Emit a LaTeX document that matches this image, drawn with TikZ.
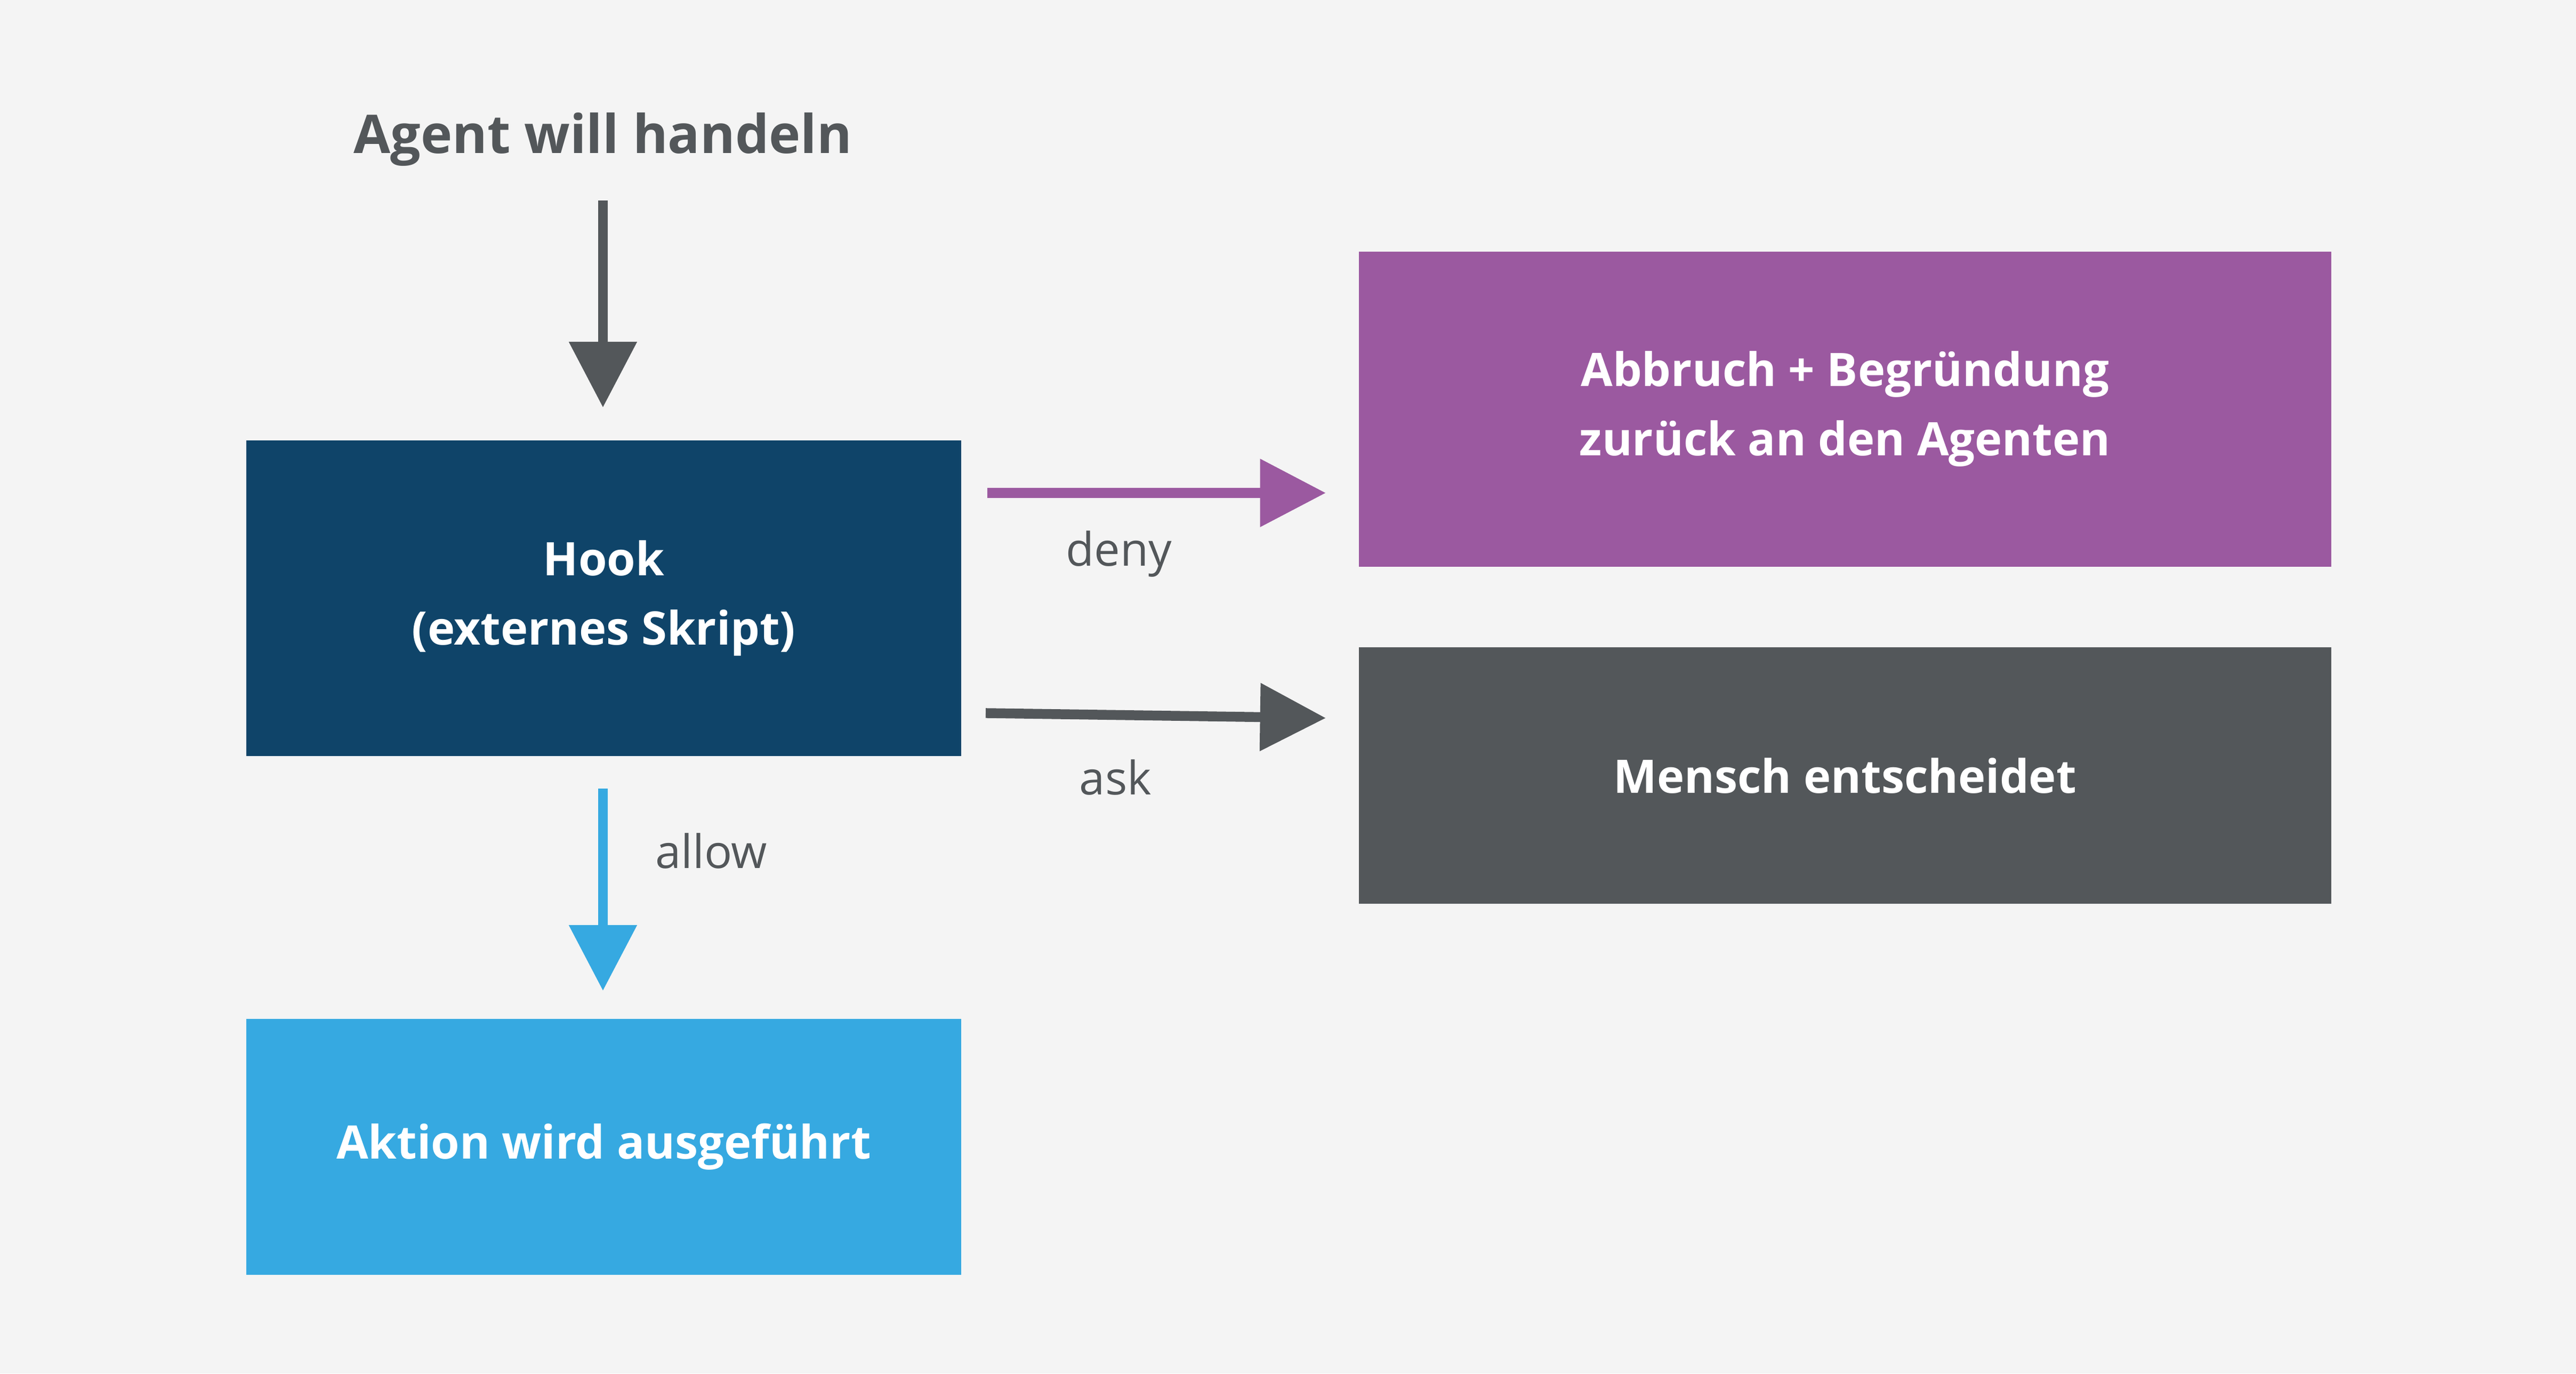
\documentclass[tikz,border=0pt]{standalone}
\usepackage{fontspec}
\setmainfont{Open Sans}
\usetikzlibrary{arrows.meta}
\definecolor{bgGray}{HTML}{F4F4F4}
\definecolor{hookBlue}{HTML}{0F4469}
\definecolor{actBlue}{HTML}{36A9E1}
\definecolor{denyPurple}{HTML}{9B59A0}
\definecolor{askGray}{HTML}{53575A}
\tikzset{
  box/.style = {rectangle, text = white, font = \fontsize{16}{24}\selectfont\bfseries,
      align = center, inner sep = 0pt},
  lbl/.style = {text = askGray, font = \fontsize{16}{20}\selectfont},
  flow/.style = {line width = 0.12cm, -{Triangle[length=0.8cm, width=0.8cm]}}
}
\begin{document}
\begin{tikzpicture}[x=0.02cm, y=-0.02cm]
% background
\fill[bgGray] (0,0) rectangle (1568,836);
\useasboundingbox (0,0) rectangle (1568,836);

% title
\node[text = askGray, font = \fontsize{18.5}{22}\selectfont\bfseries] (agent) at (367,85) {Agent will handeln};

% boxes
\node[box,
    fill = hookBlue,
    minimum width = 8.7cm,
    minimum height = 3.84cm] (hook) at (367.5,364) {Hook\\(externes Skript)};

\node[box,
    fill = actBlue,
    minimum width = 8.7cm,
    minimum height = 3.12cm] (action) at (367.5,698) {Aktion wird ausgeführt};

\node[box,
    fill = denyPurple,
    minimum width = 11.84cm,
    minimum height = 3.84cm] (abort) at (1123,249) {Abbruch + Begründung\\zurück an den Agenten};

\node[box,
    fill = askGray,
    minimum width = 11.84cm,
    minimum height = 3.12cm] (human) at (1123,472) {Mensch entscheidet};

% connector ends
\coordinate (topStart) at (367,122);
\coordinate (topEnd) at (367,248);
\coordinate (allowStart) at (367,480);
\coordinate (allowEnd) at (367,603);
\coordinate (denyStart) at (601,300);
\coordinate (denyEnd) at (807,300);
\coordinate (askStart) at (600,434);
\coordinate (askEnd) at (807,437);

% arrows
\draw[flow, askGray] (topStart) -- (topEnd);
\draw[flow, actBlue] (allowStart) -- (allowEnd);
\draw[flow, denyPurple] (denyStart) -- (denyEnd);
\draw[flow, askGray] (askStart) -- (askEnd);

% labels
\node[lbl] (allowLbl) at (433,518) {allow};
\node[lbl] (denyLbl) at (681,337) {deny};
\node[lbl] (askLbl) at (679,473) {ask};
\end{tikzpicture}
\end{document}
